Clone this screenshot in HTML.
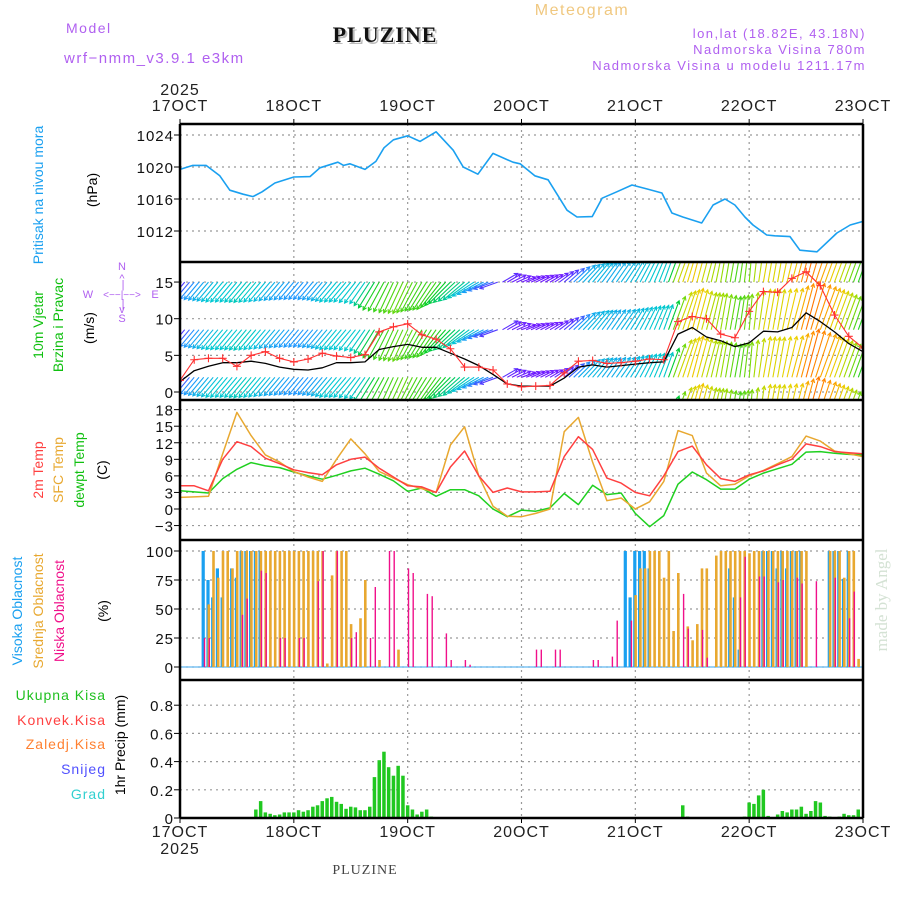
<!DOCTYPE html>
<html><head><meta charset="utf-8"><title>Meteogram PLUZINE</title>
<style>
html,body{margin:0;padding:0;background:#fff;}
svg{display:block;font-family:"Liberation Sans",sans-serif;}
</style></head>
<body>
<svg id="chart" width="900" height="900" viewBox="0 0 900 900" xmlns="http://www.w3.org/2000/svg">
<defs>
<clipPath id="clipW"><rect x="180" y="263" width="683" height="136"/></clipPath>
<clipPath id="clipT"><rect x="180" y="401" width="683" height="138"/></clipPath>
</defs>
<g letter-spacing="1.5">
<text x="66" y="33" font-size="14" fill="#b060f0">Model</text>
<text x="64" y="63" font-size="15" fill="#b060f0">wrf−nmm_v3.9.1  e3km</text>
<text x="387" y="44" font-size="22" font-weight="bold" font-family="Liberation Serif,serif" fill="#bbb" text-anchor="middle" letter-spacing="1">PLUZINE</text>
<text x="385" y="42" font-size="22" font-weight="bold" font-family="Liberation Serif,serif" fill="#111" text-anchor="middle" letter-spacing="1">PLUZINE</text>
<text x="582" y="15" font-size="16" fill="#f0c880" text-anchor="middle">Meteogram</text>
<text x="866" y="38" font-size="13" fill="#b060f0" text-anchor="end">lon,lat (18.82E, 43.18N)</text>
<text x="866" y="54" font-size="13" fill="#b060f0" text-anchor="end">Nadmorska Visina 780m</text>
<text x="866" y="70" font-size="13" fill="#b060f0" text-anchor="end">Nadmorska Visina u modelu 1211.17m</text>
</g>
<g id="grid"></g>
<g id="marks"></g>
<g id="frame"></g>
<g id="labels" letter-spacing="1"></g>
<g font-size="14">
<text transform="translate(43,195) rotate(-90)" text-anchor="middle" fill="#1aa0f0">Pritisak na nivou mora</text>
<text transform="translate(97,190) rotate(-90)" text-anchor="middle" fill="#000">(hPa)</text>
<text transform="translate(43,325) rotate(-90)" text-anchor="middle" fill="#10c010">10m Vjetar</text>
<text transform="translate(63,325) rotate(-90)" text-anchor="middle" fill="#10c010">Brzina i Pravac</text>
<text transform="translate(94,328) rotate(-90)" text-anchor="middle" fill="#000">(m/s)</text>
<g fill="#b060f0" font-size="11">
<text x="122" y="270" text-anchor="middle">N</text>
<text x="122" y="298" text-anchor="middle" font-size="10">&lt;−−|−−&gt;</text>
<text x="122" y="282" text-anchor="middle">^</text>
<text x="123" y="288" text-anchor="middle">|</text>
<text x="123" y="307" text-anchor="middle">|</text>
<text x="122" y="313" text-anchor="middle">v</text>
<text x="122" y="322" text-anchor="middle">S</text>
<text x="88" y="298" text-anchor="middle">W</text>
<text x="155" y="298" text-anchor="middle">E</text>
</g>
<text transform="translate(43,470) rotate(-90)" text-anchor="middle" fill="#ff4040">2m Temp</text>
<text transform="translate(63,470) rotate(-90)" text-anchor="middle" fill="#e8a830">SFC Temp</text>
<text transform="translate(84,470) rotate(-90)" text-anchor="middle" fill="#10c010">dewpt Temp</text>
<text transform="translate(107,470) rotate(-90)" text-anchor="middle" fill="#000">(C)</text>
<text transform="translate(22,611) rotate(-90)" text-anchor="middle" fill="#1aa0f0">Visoka Oblacnost</text>
<text transform="translate(43,611) rotate(-90)" text-anchor="middle" fill="#e8a830">Srednja Oblacnost</text>
<text transform="translate(64,611) rotate(-90)" text-anchor="middle" fill="#f0108a">Niska Oblacnost</text>
<text transform="translate(108,611) rotate(-90)" text-anchor="middle" fill="#000">(%)</text>
<g text-anchor="end" font-size="14" letter-spacing="1">
<text x="106" y="700" fill="#20c020">Ukupna  Kisa</text>
<text x="106" y="725" fill="#ff4040">Konvek.Kisa</text>
<text x="106" y="749" fill="#ff8030">Zaledj.Kisa</text>
<text x="106" y="774" fill="#5050ff">Snijeg</text>
<text x="106" y="799" fill="#30d0d0">Grad</text>
</g>
<text transform="translate(125,745) rotate(-90)" text-anchor="middle" fill="#000">1hr Precip (mm)</text>
</g>
<text transform="translate(887,600) rotate(-90)" text-anchor="middle" font-family="Liberation Serif,serif" font-size="17" fill="#d4e2d4">made by Angel</text>
<text x="365" y="874" text-anchor="middle" font-family="Liberation Serif,serif" font-size="14" fill="#444" letter-spacing="1">PLUZINE</text>
</svg>
<script>
// ---- data ----
const days = ["17OCT","18OCT","19OCT","20OCT","21OCT","22OCT","23OCT"];
const presHours = [0,2.7,5.5,8.4,10.5,13.3,15.4,17.3,20,24,27.4,29.5,33.3,34.5,35.8,39,41.3,43,45,48,50.6,54,57.6,59.7,62.8,66,70.2,71.7,74.8,77.6,81.6,83.7,86.9,89,92.1,95.3,98.5,101.6,103.7,106,110,112.4,114.9,117,119.1,120.8,123.7,125.4,128.6,130.7,134.3,138.5,141.3,144];
const presVals = [1019.7,1020.2,1020.2,1018.9,1017.1,1016.6,1016.3,1016.9,1018,1018.75,1018.8,1019.9,1020.6,1020.2,1020.4,1019.7,1020.7,1022.4,1023.4,1023.9,1023.2,1024.4,1022.1,1020,1019.1,1021.7,1020.6,1020.4,1018.9,1018.4,1014.6,1013.75,1013.8,1016.1,1016.9,1017.75,1017.25,1016.75,1014.25,1013.75,1013,1015.25,1016,1015.25,1013.75,1012.75,1011.5,1011.4,1011.3,1009.6,1009.4,1011.75,1012.75,1013.2];
const hours3 = [0,3,6,9,12,15,18,21,24,27,30,33,36,39,42,45,48,51,54,57,60,63,66,69,72,75,78,81,84,87,90,93,96,99,102,105,108,111,114,117,120,123,126,129,132,135,138,141,144];
const windSpeed = [1.4,2.9,3.5,4,4,4.2,3.9,3.4,3.1,3,3.3,4,4,4.1,5.8,6.2,6.5,6.1,6.1,5.3,4.5,3.6,2.4,1.1,0.8,0.8,0.8,1.9,3.4,3.7,3.4,3.6,3.8,4,4.1,7.9,8.8,7.5,7,6.2,6.7,8.3,8.2,8.8,10.8,9.6,8.2,6.6,5.5];
const windGust = [1.6,4.4,4.6,4.6,3.5,5,5.5,4.6,4.1,4.5,5.3,4.9,4.7,5.1,8.2,8.9,9.3,7.8,7.2,5.9,3.4,3.4,3,1.1,0.7,0.8,0.9,2.6,4.2,4.3,3.9,4,4.2,4.5,4.4,9.6,10.3,10,7.9,7.4,11,13.7,13.6,15.5,16.4,14.5,10.5,7.6,6];
const windDirFrom = [40,40,40,40,40,40,40,40,40,40,40,40,40,35,30,25,25,30,35,45,50,60,70,240,250,245,240,230,225,220,215,215,210,205,200,200,195,195,190,190,185,190,190,195,195,200,200,200,200];
const temp2m = [4.2,4.2,3.3,9,12.2,11.3,9.2,8.2,7.1,6.6,6.2,8,9,9.4,7.4,5.8,4.2,4,3,7.6,10.5,6,3,3.8,3.1,3.1,3.2,9.5,13.1,10.8,5.6,4.7,3,2.4,6,10.4,11.4,8,5.5,5,6.2,6.9,8,9,11.8,11.3,10.4,10.2,10];
const tempSfc = [2.1,2.2,2.3,10,17.5,13.3,9.8,8.5,6.8,5.8,5,9,12.7,10,6.8,5.6,4.4,3.7,3,11.6,14.9,6,0.5,-1.3,-1.4,-0.8,0,14,16.6,8.5,1.5,2,0,1.3,5,14.2,13.3,6.5,4.2,4.5,6,7,8.2,9.5,13.2,12.3,10.5,10,9.5];
const tempDew = [3.3,3.1,2.9,5.5,7.2,8.4,7.8,7.5,6.7,6,5.4,6.1,6.9,7.4,6.3,5.1,3.2,3.8,2.3,3.5,3.5,2.4,0,-1.4,-0.2,-0.4,0.2,2.8,0.8,4.3,2.6,2.9,-0.8,-3.2,-1.2,4.5,6.7,5.3,3.6,3.6,5.4,6.5,7.3,8.1,10.3,10.4,10.1,9.9,9.8];
const highHours = [5,6,7,8,9,11,12,13,14,15,16,17,94,95,96,97,98,99,116,117,118,123,124,125,126,127,128,129,130,131,137,138,139,140,141];
const highVals  = [100,75,60,85,60,85,77,100,100,100,100,100,100,60,100,100,100,85,85,60,15,100,100,100,85,100,85,100,100,100,100,100,100,76,100];
const midHours = [6,7,8,9,10,11,12,13,14,15,16,17,18,19,20,21,22,23,24,25,26,27,28,29,30,31,32,33,34,35,36,38,39,42,46,96,97,98,99,100,101,102,103,104,105,107,108,109,110,111,113,114,115,116,117,118,119,120,121,122,123,124,125,126,127,128,129,130,131,132,137,138,139,140,141,142,143];
const midVals  = [54,100,77,100,100,85,100,100,100,100,100,100,100,100,100,100,100,100,100,100,100,100,100,100,100,3,79,100,100,100,37,42,75,6,15,62,85,85,100,100,100,77,100,31,81,35,23,37,85,85,96,100,100,100,100,100,100,98,100,100,100,100,100,100,100,100,100,100,100,100,100,100,100,77,100,100,7];
const lowHours = [5,6,13,14,17,18,21,22,25,26,29,30,33,36,37,40,41,44,45,48,49,52,53,56,57,60,61,75,76,79,80,87,88,91,92,95,106,107,110,111,118,119,122,123,126,127,130,131,134,138,141,142];
const lowVals  = [25,25,45,59,83,81,25,25,25,25,74,100,100,25,30,25,69,100,100,85,81,63,61,29,6,6,2,15,15,15,15,6,6,9,40,40,63,33,32,8,60,95,78,78,73,75,77,72,74,77,42,65];
const precipHours = [5,16,17,18,19,20,21,22,23,24,25,26,27,28,29,30,31,32,33,34,35,36,37,38,39,40,41,42,43,44,45,46,47,48,49,50,51,52,53,106,107,119,120,121,122,123,124,126,127,128,129,130,131,132,133,134,135,136,137,139,140,141,142,143];
const precipVals  = [0.005,0.06,0.12,0.04,0.03,0.02,0.025,0.04,0.04,0.04,0.055,0.045,0.055,0.08,0.09,0.12,0.14,0.15,0.115,0.1,0.065,0.08,0.075,0.055,0.055,0.08,0.29,0.41,0.47,0.36,0.3,0.37,0.3,0.09,0.06,0.025,0.045,0.06,0.01,0.09,0.01,0.01,0.11,0.1,0.16,0.2,0.015,0.025,0.05,0.04,0.06,0.06,0.08,0.03,0.05,0.12,0.11,0.015,0.01,0.01,0.03,0.02,0.02,0.06];
const presTicks = [1012,1016,1020,1024];
const windTicks = [0,5,10,15];
const tempTicks = [-3,0,3,6,9,12,15,18];
const cloudTicks = [0,25,50,75,100];
const precipTicks = [0,0.2,0.4,0.6,0.8];
const precipTickLabels = ["0","0.2","0.4","0.6","0.8"];

// ---- axes ----
const X0=180, X1=863, HMAX=144;
const X = h => X0 + h*(X1-X0)/HMAX;
const Yp = v => 135 + (1024-v)*8;
const Yw = v => 392 - v*7.33;
const Yt = v => 509 - v*5.52;
const Yc = v => 667 - v*1.16;
const Yr = v => 818 - v*141;
const panels = [[124,262],[262,400],[400,540],[540,680],[680,818]];

const NS="http://www.w3.org/2000/svg";
function mk(tag, attrs, parent){const e=document.createElementNS(NS,tag);for(const k in attrs)e.setAttribute(k,attrs[k]);parent.appendChild(e);return e;}
const grid=document.getElementById('grid'), marks=document.getElementById('marks'), frame=document.getElementById('frame'), labels=document.getElementById('labels');

days.forEach((d,i)=>{
  const x=X(i*24);
  if(i>0 && i<days.length-1){
    const l=mk('line',{x1:x,y1:124,x2:x,y2:818,stroke:'#999','stroke-width':1.2,'stroke-dasharray':'2,4'},grid);
    
    
  }
  const t=mk('text',{x:x,y:111,'font-size':16,'text-anchor':'middle',fill:'#222'},labels);
  t.textContent=d;
  
  
  const b=mk('text',{x:x,y:837,'font-size':16,'text-anchor':'middle',fill:'#222'},labels);
  b.textContent=d;
  
  
  mk('line',{x1:x,y1:119,x2:x,y2:124,stroke:'#000'},frame);
  mk('line',{x1:x,y1:818,x2:x,y2:823,stroke:'#000'},frame);
});
[[180,95],[180,854]].forEach(p=>{const t=mk('text',{x:p[0],y:p[1],'font-size':16,'text-anchor':'middle',fill:'#222'},labels);t.textContent='2025';

});

function yTicks(ticks, Y, texts, name){
  ticks.forEach((v,i)=>{
    const y=Y(v);
    const g=mk('line',{x1:X0,y1:y,x2:X1,y2:y,stroke:'#999','stroke-width':1.2,'stroke-dasharray':'2,4'},grid);
    
    
    mk('line',{x1:X0-6,y1:y,x2:X0,y2:y,stroke:'#000'},frame);
    const t=mk('text',{x:174,y:y+6,'font-size':15,'text-anchor':'end',fill:'#111'},labels);
    t.textContent = texts ? texts[i] : String(v).replace('-','−');
    
    
  });
}
yTicks(presTicks,Yp,null,'pressure');
yTicks(windTicks,Yw,null,'wind');
yTicks(tempTicks,Yt,null,'temp');
yTicks(cloudTicks,Yc,null,'cloud');
yTicks(precipTicks,Yr,precipTickLabels,'precip');

panels.forEach(p=>{
  mk('line',{x1:X0,y1:p[0],x2:X1,y2:p[0],stroke:'#000','stroke-width':2.5},frame);
});
mk('line',{x1:X0,y1:818,x2:X1,y2:818,stroke:'#000','stroke-width':2.5},frame);
mk('line',{x1:X0,y1:124,x2:X0,y2:818,stroke:'#000','stroke-width':2.5},frame);
mk('line',{x1:X1,y1:124,x2:X1,y2:818,stroke:'#000','stroke-width':2.5},frame);

function line(hs, vs, Y, color, name, clip, w){
  const d=hs.map((h,i)=>(i?'L':'M')+X(h).toFixed(1)+','+Y(vs[i]).toFixed(1)).join(' ');
  const p=mk('path',{d:d,fill:'none',stroke:color,'stroke-width':w||1.5,'stroke-linejoin':'round'},marks);
  if(clip)p.setAttribute('clip-path','url(#'+clip+')');
  
  
  return p;
}
line(presHours,presVals,Yp,'#1aa0f0','pressure-line',null,1.6);

function windColor(s){
  const st=[[0,[128,0,255]],[2,[80,60,255]],[3,[30,150,255]],[4,[0,200,210]],[5.5,[0,205,40]],[7,[150,220,0]],[8.5,[235,210,0]],[10,[255,150,0]],[12,[255,70,0]]];
  if(s<=st[0][0])return 'rgb('+st[0][1]+')';
  for(let i=1;i<st.length;i++){if(s<=st[i][0]){const a=st[i-1],b=st[i],t=(s-a[0])/(b[0]-a[0]);return 'rgb('+a[1].map((c,k)=>Math.round(c+(b[1][k]-c)*t)).join(',')+')';}}
  return 'rgb('+st[st.length-1][1]+')';
}
const wg=mk('g',{'clip-path':'url(#clipW)'},marks);


const anchors=[-4.5,2,8.5,15];
for(let i=0;i<hours3.length;i++){
  const sub = i<hours3.length-1 ? 3 : 1;
  for(let k=0;k<sub;k++){
    const f=k/3, j=Math.min(i+1,hours3.length-1);
    const h=hours3[i]+(hours3[j]-hours3[i])*f;
    const s=windSpeed[i]+(windSpeed[j]-windSpeed[i])*f;
    let dA=windDirFrom[i], dB=windDirFrom[j], dd=((dB-dA+540)%360)-180;
    const dir = Math.abs(dd)>90 ? (k<2?dA:dB) : dA+dd*f;
    const to=(dir+180)*Math.PI/180;
    const L=12+s*3.5;
    const dx=Math.sin(to)*L, dy=-Math.cos(to)*L;
    const col=windColor(s);
    anchors.forEach(a=>{
      const x0=X(h), y0=Yw(a), x1=x0+dx, y1=y0+dy;
      const ang=Math.atan2(dy,dx), hl=4;
      const d='M'+x0.toFixed(1)+','+y0.toFixed(1)+'L'+x1.toFixed(1)+','+y1.toFixed(1)+
        'M'+(x1-hl*Math.cos(ang-0.5)).toFixed(1)+','+(y1-hl*Math.sin(ang-0.5)).toFixed(1)+'L'+x1.toFixed(1)+','+y1.toFixed(1)+
        'L'+(x1-hl*Math.cos(ang+0.5)).toFixed(1)+','+(y1-hl*Math.sin(ang+0.5)).toFixed(1);
      const p=mk('path',{d:d,stroke:col,'stroke-width':1.1,fill:'none'},wg);
      
      
    });
  }
}
line(hours3,windSpeed,Yw,'#000','wind-speed-line','clipW',1.3);
line(hours3,windGust,Yw,'#ff3030','wind-gust-line','clipW',1.1);
hours3.forEach((h,i)=>{
  const x=X(h), y=Yw(windGust[i]);
  const p=mk('path',{d:'M'+(x-4)+','+y+'H'+(x+4)+'M'+x+','+(y-4)+'V'+(y+4),stroke:'#ff3030','stroke-width':1.1},marks);
  p.setAttribute('clip-path','url(#clipW)');
  
  
});

line(hours3,tempDew,Yt,'#20d020','dewpoint-line','clipT',1.5);
line(hours3,tempSfc,Yt,'#e8a830','sfc-temp-line','clipT',1.5);
line(hours3,temp2m,Yt,'#ff4040','temp-2m-line','clipT',1.5);

const cb=mk('line',{x1:X0,y1:667,x2:X1,y2:667,stroke:'#60b8f0','stroke-width':1.2},marks);


function bars(hs,vs,Y,color,w,name,off){
  hs.forEach((h,i)=>{
    const x=X(h)+(off||0), y=Y(vs[i]), y0=Y(0);
    const r=mk('rect',{x:(x-w/2).toFixed(1),y:y.toFixed(1),width:w,height:Math.max(0.5,y0-y).toFixed(1),fill:color},marks);
    
    
  });
}
bars(highHours,highVals,Yc,'#1aa0f0',3.2,'high-cloud-bar',-0.5);
bars(midHours,midVals,Yc,'#e8a830',2.6,'mid-cloud-bar',0.3);
bars(lowHours,lowVals,Yc,'#f0108a',1.4,'low-cloud-bar',0.8);

bars(precipHours,precipVals,Yr,'#20c820',3.5,'precip-bar',0);
</script>
</body></html>
